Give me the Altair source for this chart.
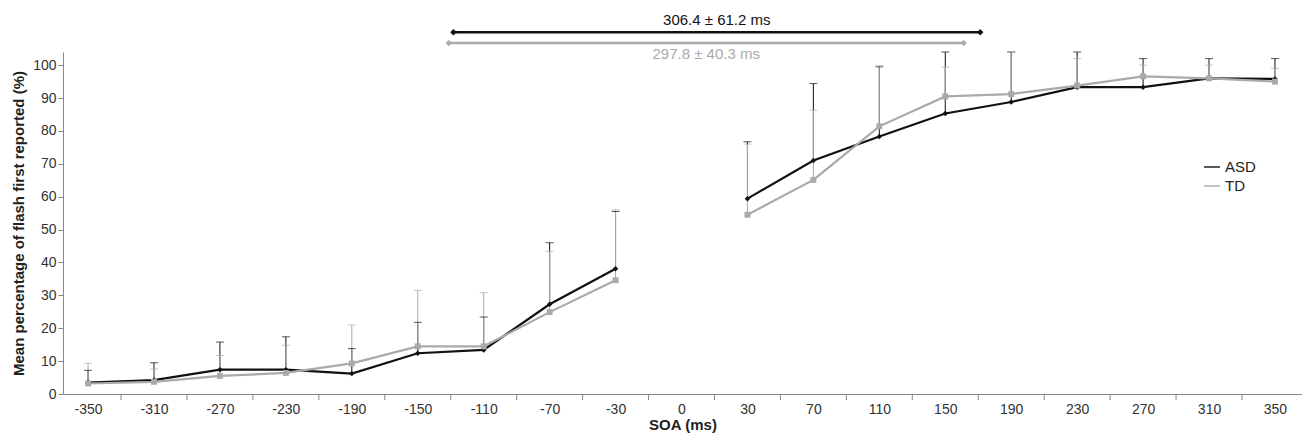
import altair as alt
import pandas as pd

soa = ["-350", "-310", "-270", "-230", "-190", "-150", "-110", "-70", "-30", "0",
       "30", "70", "110", "150", "190", "230", "270", "310", "350"]
asd_mean = [3.5, 4.2, 7.4, 7.4, 6.2, 12.4, 13.4, 27.3, 38.1, None,
            59.4, 71.0, 78.3, 85.3, 88.8, 93.3, 93.3, 96.0, 95.8]
asd_top = [7.2, 9.5, 15.8, 17.4, 13.8, 21.8, 23.4, 46.0, 55.5, None,
           76.7, 94.4, 99.5, 104.0, 104.0, 104.0, 102.0, 102.0, 102.0]
td_mean = [3.2, 3.7, 5.5, 6.4, 9.3, 14.5, 14.5, 24.9, 34.6, None,
           54.5, 65.1, 81.4, 90.5, 91.2, 93.8, 96.6, 96.0, 95.0]
td_top = [9.3, 7.6, 11.7, 14.8, 21.0, 31.5, 30.8, 43.4, 56.0, None,
          76.0, 86.3, 99.8, 99.4, 104.0, 102.0, 100.0, 100.0, 99.0]

# PSE spans (in category index units) with labels
span_group = ["ASD", "TD"]
span_start = [5.54, 5.47]
span_end = [13.53, 13.28]
span_y = [110.0, 106.7]
span_label = ["306.4 ± 61.2 ms", "297.8 ± 40.3 ms"]
label_y = [113.6, 103.4]

rows = []
for i, s in enumerate(soa):
    for g, m, t in (("ASD", asd_mean, asd_top), ("TD", td_mean, td_top)):
        if m[i] is not None:
            rows.append({"i": i, "soa": s, "group": g, "mean": m[i], "top": t[i],
                         "seg": "neg" if i < 9 else "pos"})
df = pd.DataFrame(rows)

spans = pd.DataFrame({"group": span_group, "x1": span_start, "x2": span_end,
                      "y": span_y, "label": span_label, "ly": label_y,
                      "xm": [(a + b) / 2 for a, b in zip(span_start, span_end)]})
ticks = pd.DataFrame({"t": [k + 0.5 for k in range(18)], "y0": [0] * 18})

lbl_expr = "[" + ",".join(f"'{s}'" for s in soa) + "][datum.value]"
xs = alt.Scale(domain=[-0.38, 18.41], nice=False, zero=False)
ys = alt.Scale(domain=[0, 104], nice=False)
col = alt.Scale(domain=["ASD", "TD"], range=["#111111", "#aaaaaa"])
leg = alt.Legend(orient="none", legendX=1140, legendY=106, labelFontSize=15,
                 labelColor="#222", symbolSize=250, symbolStrokeWidth=2, symbolType="stroke")
color = alt.Color("group:N", scale=col, title=None, legend=leg)

x_axis = alt.Axis(values=list(range(19)), labelExpr=lbl_expr, ticks=False, grid=False,
                  labelFontSize=14, labelColor="#333", titleFontSize=15,
                  titleFontWeight="bold", titleColor="#222", labelPadding=8,
                  domainColor="#888", titlePadding=1, labelOverlap=False)
y_axis = alt.Axis(values=list(range(0, 101, 10)), grid=False, tickSize=5,
                  labelFontSize=14, labelColor="#333", titleFontSize=15,
                  titleFontWeight="bold", titleColor="#222", domainColor="#888",
                  tickColor="#888", labelOverlap=False, titlePadding=6)


def qx(f):
    return alt.X(f, scale=xs, title="SOA (ms)", axis=x_axis)


def qy(f):
    return alt.Y(f, scale=ys, title="Mean percentage of flash first reported (%)", axis=y_axis)


base = alt.Chart(df)
err = base.mark_rule(strokeWidth=1).encode(x=qx("i:Q"), y=qy("mean:Q"), y2="top:Q", color=color)
caps = base.mark_tick(orient="horizontal", size=8, thickness=1).encode(
    x=qx("i:Q"), y=qy("top:Q"), color=color)
lines = base.mark_line(strokeWidth=2.2).encode(
    x=qx("i:Q"), y=qy("mean:Q"), color=color, detail="seg:N", order="i:Q")
pts_asd = base.transform_filter("datum.group=='ASD'").mark_point(
    shape="diamond", filled=True, size=30, opacity=1).encode(x=qx("i:Q"), y=qy("mean:Q"), color=color)
pts_td = base.transform_filter("datum.group=='TD'").mark_point(
    shape="square", filled=True, size=35, opacity=1).encode(x=qx("i:Q"), y=qy("mean:Q"), color=color)

xt = alt.Chart(ticks).mark_rule(color="#888").encode(
    x=qx("t:Q"), y=qy("y0:Q"), y2=alt.value(348))

sp = alt.Chart(spans)
span_rule = sp.mark_rule(strokeWidth=2.5, clip=False).encode(
    x=qx("x1:Q"), x2="x2:Q", y=qy("y:Q"), color=color)
span_pts = sp.transform_fold(["x1", "x2"], as_=["end", "pos"]).mark_point(
    shape="diamond", filled=True, size=40, opacity=1, clip=False).encode(
    x=qx("pos:Q"), y=qy("y:Q"), color=color)
span_txt = sp.mark_text(fontSize=15, clip=False).encode(
    x=qx("xm:Q"), y=qy("ly:Q"), text="label:N", color=color)

chart = alt.layer(lines, err, caps, pts_asd, pts_td, xt, span_rule, span_pts, span_txt).properties(
    width=1239, height=342,
    autosize=alt.AutoSizeParams(type="none"),
    padding={"left": 55, "top": 44, "right": 0, "bottom": 52},
).configure(font="Liberation Sans").configure_view(stroke=None)

chart.save("out.html", embed_options={"renderer": "svg", "actions": False})
